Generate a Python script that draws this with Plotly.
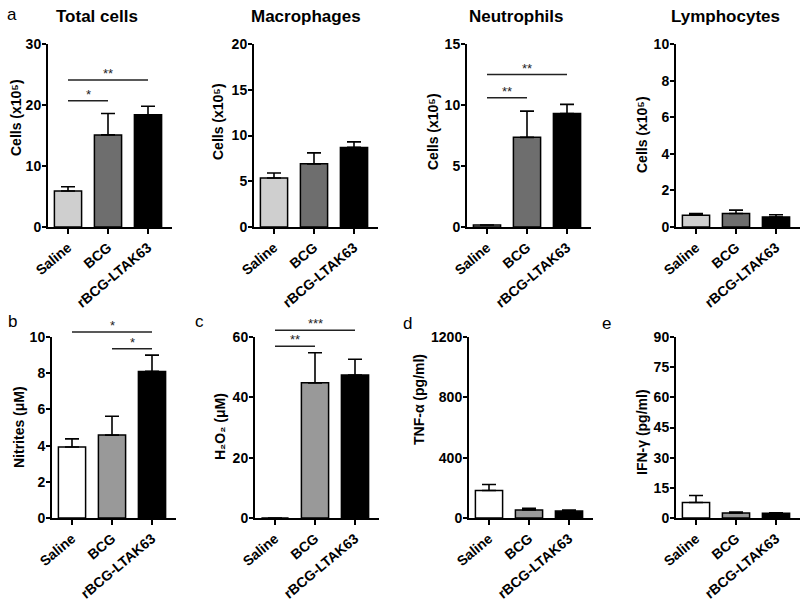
import plotly.graph_objects as go

# ---------------- data ----------------
categories = ["Saline", "BCG", "rBCG-LTAK63"]

total_cells = [5.9, 15.1, 18.4]
total_cells_err = [0.7, 3.5, 1.4]

macrophages = [5.35, 6.9, 8.7]
macrophages_err = [0.55, 1.2, 0.6]

neutrophils = [0.17, 7.35, 9.3]
neutrophils_err = [0.0, 2.15, 0.75]

lymphocytes = [0.64, 0.74, 0.55]
lymphocytes_err = [0.09, 0.18, 0.12]

nitrites = [3.92, 4.58, 8.1]
nitrites_err = [0.45, 1.04, 0.9]

h2o2 = [0.0, 44.8, 47.4]
h2o2_err = [0.0, 10.0, 5.2]

tnf = [182, 53, 46]
tnf_err = [40, 11, 7]

ifn = [7.7, 2.5, 2.4]
ifn_err = [3.5, 0.5, 0.2]

# significance brackets: (from index, to index, height, label)
total_sig = [(0, 1, 20.7, "*"), (0, 2, 24.1, "**")]
neutro_sig = [(0, 1, 10.6, "**"), (0, 2, 12.5, "**")]
nitrite_sig = [(0, 2, 10.28, "*"), (1, 2, 9.35, "*")]
h2o2_sig = [(0, 1, 56.9, "**"), (0, 2, 62.2, "***")]

top_colors = ["#cfcfcf", "#6e6e6e", "#000000"]
bottom_colors = ["#ffffff", "#999999", "#000000"]

W, H = 800, 604
FONT = "Arial, 'Liberation Sans', sans-serif"

panels = [
    dict(vals=total_cells, err=total_cells_err, ymax=30, dtick=10, colors=top_colors,
         ytitle="Cells (x10⁵)", axpx=48, row="top", sig=total_sig,
         title="Total cells", title_px=97, ttl=(16, 118)),
    dict(vals=macrophages, err=macrophages_err, ymax=20, dtick=5, colors=top_colors,
         ytitle="Cells (x10⁵)", axpx=254, row="top", sig=[],
         title="Macrophages", title_px=306, ttl=(218, 122)),
    dict(vals=neutrophils, err=neutrophils_err, ymax=15, dtick=5, colors=top_colors,
         ytitle="Cells (x10⁵)", axpx=467, row="top", sig=neutro_sig,
         title="Neutrophils", title_px=516, ttl=(433, 132)),
    dict(vals=lymphocytes, err=lymphocytes_err, ymax=10, dtick=2, colors=top_colors,
         ytitle="Cells (x10⁵)", axpx=676, row="top", sig=[],
         title="Lymphocytes", title_px=725, ttl=(642, 135)),
    dict(vals=nitrites, err=nitrites_err, ymax=10, dtick=2, colors=bottom_colors,
         ytitle="Nitrites (μM)", axpx=52, row="bottom", sig=nitrite_sig,
         title=None, ttl=(19, 427)),
    dict(vals=h2o2, err=h2o2_err, ymax=60, dtick=20, colors=bottom_colors,
         ytitle="H₂O₂ (μM)", axpx=255, row="bottom", sig=h2o2_sig,
         title=None, ttl=(220, 427)),
    dict(vals=tnf, err=tnf_err, ymax=1200, dtick=400, colors=bottom_colors,
         ytitle="TNF-α (pg/ml)", axpx=469, row="bottom", sig=[],
         title=None, ttl=(419, 400)),
    dict(vals=ifn, err=ifn_err, ymax=90, dtick=15, colors=bottom_colors,
         ytitle="IFN-γ (pg/ml)", axpx=676, row="bottom", sig=[],
         title=None, ttl=(642, 432)),
]

XR = [-0.5, 2.6]
CAT_PX = 40.0
rows = {"top": (227, 44), "bottom": (518, 337)}

fig = go.Figure()
shapes = []
annotations = []

for i, p in enumerate(panels):
    n = "" if i == 0 else str(i + 1)
    xa, ya = "x" + n, "y" + n
    x0 = p["axpx"] / W
    x1 = min(1.0, (p["axpx"] + (XR[1] - XR[0]) * CAT_PX) / W)
    yb, yt = rows[p["row"]]
    y0 = (H - yb) / H
    y1 = (H - yt) / H

    fig.add_trace(go.Bar(
        x=[0, 1, 2], y=p["vals"], width=0.68,
        marker=dict(color=p["colors"], line=dict(color="black", width=1.5)),
        error_y=dict(type="data", array=p["err"], arrayminus=[0, 0, 0], symmetric=False,
                     color="black", thickness=1.6, width=7),
        xaxis=xa, yaxis=ya, showlegend=False, hoverinfo="skip",
    ))

    fig.layout["xaxis" + n] = dict(
        domain=[x0, x1], range=XR, anchor=ya, showline=True, linecolor="black", linewidth=2,
        tickmode="array", tickvals=[0, 1, 2], ticktext=categories, tickangle=-40,
        ticks="outside", ticklen=5, tickwidth=2, tickcolor="black",
        tickfont=dict(family=FONT, size=14, color="black", weight="bold"),
        showgrid=False, zeroline=False, fixedrange=True, automargin=False,
    )
    fig.layout["yaxis" + n] = dict(
        domain=[y0, y1], range=[0, p["ymax"]], dtick=p["dtick"], anchor=xa,
        showline=True, linecolor="black", linewidth=2,
        ticks="outside", ticklen=4, tickwidth=2, tickcolor="black", ticklabelstandoff=-2,
        tickfont=dict(family=FONT, size=14, color="black", weight="bold"),
        showgrid=False, zeroline=False, fixedrange=True, automargin=False,
    )

    # y-axis title, placed as a rotated label beside the axis
    tx, ty = p["ttl"]
    annotations.append(dict(xref="paper", yref="paper", x=tx / W, y=(H - ty) / H,
                            text=p["ytitle"], textangle=-90, showarrow=False,
                            xanchor="center", yanchor="middle",
                            font=dict(family=FONT, size=14, color="black", weight="bold")))

    for (a, b, h, lab) in p["sig"]:
        fa = (a - XR[0]) / (XR[1] - XR[0])
        fb = (b - XR[0]) / (XR[1] - XR[0])
        fy = h / p["ymax"]
        shapes.append(dict(type="line", xref=xa + " domain", yref=ya + " domain",
                           x0=fa, x1=fb, y0=fy, y1=fy,
                           line=dict(color="#222222", width=1.5)))
        annotations.append(dict(xref=xa + " domain", yref=ya + " domain",
                                x=(fa + fb) / 2, y=fy, text=lab, showarrow=False,
                                xanchor="center", yanchor="bottom", yshift=-3,
                                font=dict(family=FONT, size=13, color="#222222")))

    if p["title"]:
        annotations.append(dict(xref="paper", yref="paper", x=p["title_px"] / W, y=(H - 17) / H,
                                text=p["title"], showarrow=False, xanchor="center", yanchor="middle",
                                font=dict(family=FONT, size=17, color="black", weight="bold")))

# panel letters
for lab, px, py in [("a", 12, 15), ("b", 12, 321), ("c", 199, 321), ("d", 407, 323), ("e", 606, 323)]:
    annotations.append(dict(xref="paper", yref="paper", x=px / W, y=(H - py) / H, text=lab,
                            showarrow=False, xanchor="center", yanchor="middle",
                            font=dict(family=FONT, size=17, color="black")))

fig.update_layout(
    width=W, height=H, margin=dict(l=0, r=0, t=0, b=0, autoexpand=False),
    paper_bgcolor="white", plot_bgcolor="white",
    font=dict(family=FONT, color="black"),
    shapes=shapes, annotations=annotations, bargap=0.3,
)

fig.write_html("out.html", config={"displayModeBar": False},
               post_script="document.body.style.margin='0';document.body.style.overflow='hidden';")
